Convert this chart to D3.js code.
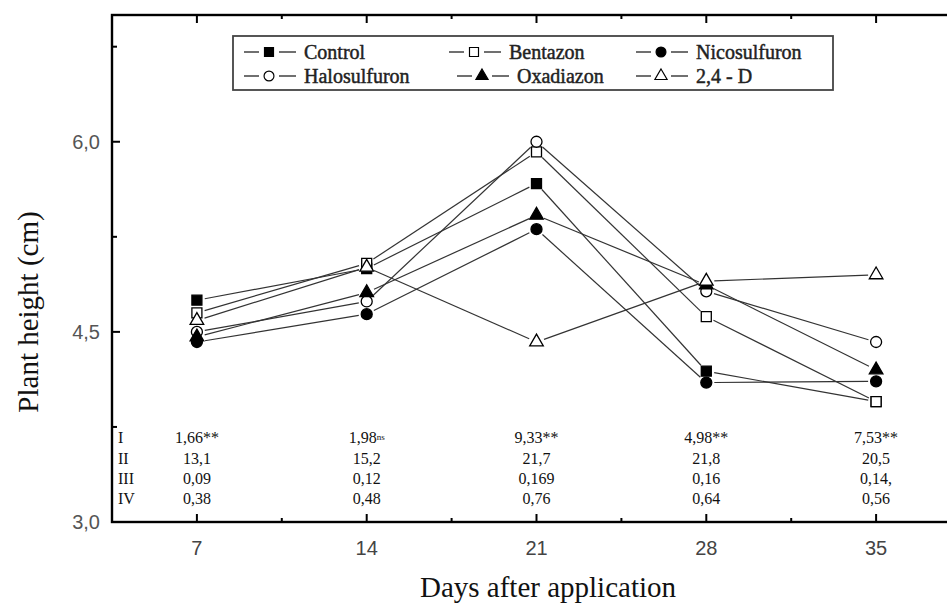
<!DOCTYPE html>
<html>
<head>
<meta charset="utf-8">
<script src="https://cdn.jsdelivr.net/npm/d3@7"></script>
<style>
  body { margin: 0; background: #fff; }
  svg { display: block; }
</style>
</head>
<body>
<div id="chart"></div>
<script>
// data
var days = [7, 14, 21, 28, 35];
var control = [4.75, 5.00, 5.67, 4.19, 3.95];
var bentazon = [4.65, 5.04, 5.92, 4.62, 3.95];
var nicosulfuron = [4.42, 4.64, 5.31, 4.10, 4.11];
var halosulfuron = [4.50, 4.74, 6.00, 4.82, 4.42];
var oxadiazon = [4.46, 4.81, 5.42, 4.87, 4.20];
var d24 = [4.59, 5.01, 4.42, 4.90, 4.95];

var seriesNames = ["Control", "Bentazon", "Nicosulfuron", "Halosulfuron", "Oxadiazon", "2,4 - D"];
var yTicks = [3.0, 4.5, 6.0];
var yMinor = [3.75, 5.25, 6.75];
var xMinor = [10.5, 17.5, 24.5, 31.5];

// statistics rows under the curves
var rowLabels = ["I", "II", "III", "IV"];
var rowI = ["1,66**", "1,98", "9,33**", "4,98**", "7,53**"];
var rowII = ["13,1", "15,2", "21,7", "21,8", "20,5"];
var rowIII = ["0,09", "0,12", "0,169", "0,16", "0,14,"];
var rowIV = ["0,38", "0,48", "0,76", "0,64", "0,56"];

var W = 947, H = 603;
var margin = { left: 112, top: 15, bottom: 81 };
var serif = "'Liberation Serif', 'Times New Roman', serif";
var sans = "'Liberation Sans', Arial, sans-serif";

var svg = d3.select("#chart").append("svg")
  .attr("width", W)
  .attr("height", H);

var x = d3.scaleLinear().domain([3.5, 38.5]).range([margin.left, 961]);
var y = d3.scaleLinear().domain([3, 7]).range([H - margin.bottom, margin.top]);

var series = [
  { name: seriesNames[0], values: control, shape: "square", fill: "#000" },
  { name: seriesNames[1], values: bentazon, shape: "square", fill: "#fff" },
  { name: seriesNames[2], values: nicosulfuron, shape: "circle", fill: "#000" },
  { name: seriesNames[3], values: halosulfuron, shape: "circle", fill: "#fff" },
  { name: seriesNames[4], values: oxadiazon, shape: "triangle", fill: "#000" },
  { name: seriesNames[5], values: d24, shape: "triangle", fill: "#fff" }
];

function symbolFor(shape) {
  if (shape == "square") return d3.symbol().type(d3.symbolSquare).size(100)();
  if (shape == "circle") return d3.symbol().type(d3.symbolCircle).size(95)();
  return d3.symbol().type(d3.symbolTriangle).size(80)();
}

// frame
svg.append("rect")
  .attr("x", x(3.5)).attr("y", y(7))
  .attr("width", x(38.5) - x(3.5)).attr("height", y(3) - y(7))
  .attr("fill", "none").attr("stroke", "#000").attr("stroke-width", 2.4);

// ticks (inward)
var tk = svg.append("g").attr("stroke", "#000").attr("stroke-width", 2);
days.forEach(function (d) {
  tk.append("line").attr("x1", x(d)).attr("x2", x(d)).attr("y1", y(3)).attr("y2", y(3) - 8);
  tk.append("line").attr("x1", x(d)).attr("x2", x(d)).attr("y1", y(7)).attr("y2", y(7) + 8);
});
xMinor.forEach(function (d) {
  tk.append("line").attr("x1", x(d)).attr("x2", x(d)).attr("y1", y(3)).attr("y2", y(3) - 4);
  tk.append("line").attr("x1", x(d)).attr("x2", x(d)).attr("y1", y(7)).attr("y2", y(7) + 4);
});
yTicks.forEach(function (v) {
  tk.append("line").attr("x1", x(3.5)).attr("x2", x(3.5) + 8).attr("y1", y(v)).attr("y2", y(v));
});
yMinor.forEach(function (v) {
  tk.append("line").attr("x1", x(3.5)).attr("x2", x(3.5) + 5).attr("y1", y(v)).attr("y2", y(v));
});

// tick labels
svg.append("g").selectAll("text")
  .data(yTicks).enter().append("text")
  .attr("x", x(3.5) - 12).attr("y", function (d) { return y(d); })
  .attr("dy", "0.35em")
  .attr("text-anchor", "end")
  .attr("font-family", sans)
  .attr("font-size", 20).attr("fill", "#555")
  .text(function (d) { return d3.format(".1f")(d).replace(".", ","); });

svg.append("g").selectAll("text")
  .data(days).enter().append("text")
  .attr("x", function (d) { return x(d); }).attr("y", y(3) + 33)
  .attr("text-anchor", "middle")
  .attr("font-family", sans)
  .attr("font-size", 20).attr("fill", "#444")
  .text(function (d) { return d; });

// axis titles
svg.append("text")
  .attr("transform", "translate(38,312) rotate(-90)")
  .attr("text-anchor", "middle")
  .attr("font-family", serif)
  .attr("font-size", 29).attr("fill", "#111")
  .text("Plant height (cm)");

svg.append("text")
  .attr("x", 548).attr("y", 597)
  .attr("text-anchor", "middle")
  .attr("font-family", serif)
  .attr("font-size", 29).attr("fill", "#111")
  .text("Days after application");

// lines with small gaps at the markers
var gap = 8;
var lines = svg.append("g").attr("stroke", "#333").attr("stroke-width", 1.2);
series.forEach(function (s) {
  for (var i = 0; i < days.length - 1; i++) {
    var x1 = x(days[i]), y1 = y(s.values[i]);
    var x2 = x(days[i + 1]), y2 = y(s.values[i + 1]);
    var len = Math.sqrt((x2 - x1) * (x2 - x1) + (y2 - y1) * (y2 - y1));
    var ux = (x2 - x1) / len, uy = (y2 - y1) / len;
    lines.append("line")
      .attr("x1", x1 + ux * gap).attr("y1", y1 + uy * gap)
      .attr("x2", x2 - ux * gap).attr("y2", y2 - uy * gap);
  }
});

// markers
series.forEach(function (s) {
  svg.append("g").selectAll("path")
    .data(s.values).enter().append("path")
    .attr("d", symbolFor(s.shape))
    .attr("transform", function (d, i) { return "translate(" + x(days[i]) + "," + y(d) + ")"; })
    .attr("fill", s.fill)
    .attr("stroke", "#000")
    .attr("stroke-width", 1.3);
});

// legend
var lg = svg.append("g");
lg.append("rect")
  .attr("x", 233).attr("y", 36).attr("width", 600).attr("height", 54)
  .attr("fill", "#fff").attr("stroke", "#444").attr("stroke-width", 1.8);

var legX = [244, 449, 636];
var legY = [52, 76];
series.forEach(function (s, i) {
  var lx = legX[i % 3] + (i == 4 ? 8 : 0), ly = legY[Math.floor(i / 3)];
  var it = lg.append("g").attr("transform", "translate(" + lx + "," + ly + ")");
  it.append("line").attr("x1", 0).attr("x2", 15).attr("y1", 0).attr("y2", 0)
    .attr("stroke", "#222").attr("stroke-width", 1.3);
  it.append("path").attr("d", symbolFor(s.shape))
    .attr("transform", "translate(25,0) scale(0.9)")
    .attr("fill", s.fill).attr("stroke", "#000").attr("stroke-width", 1.3);
  it.append("line").attr("x1", 35).attr("x2", 52).attr("y1", 0).attr("y2", 0)
    .attr("stroke", "#222").attr("stroke-width", 1.3);
  it.append("text")
    .attr("x", 60).attr("y", 0).attr("dy", "0.35em")
    .attr("font-family", serif)
    .attr("font-size", 20).attr("fill", "#222")
    .attr("stroke", "#222").attr("stroke-width", 0.45)
    .text(s.name);
});

// statistics table
var rows = [rowI, rowII, rowIII, rowIV];
var rowY = [437, 458, 478, 498];
var st = svg.append("g")
  .attr("font-family", serif)
  .attr("font-size", 16).attr("fill", "#111");
rows.forEach(function (r, j) {
  st.append("text").attr("x", 118).attr("y", rowY[j]).attr("dy", "0.35em").text(rowLabels[j]);
  r.forEach(function (v, i) {
    var t = st.append("text")
      .attr("x", x(days[i])).attr("y", rowY[j]).attr("dy", "0.35em")
      .attr("text-anchor", "middle")
      .text(v);
    if (j == 0 && v == "1,98") {
      t.append("tspan").attr("font-size", 9).attr("dy", "-0.3em").text("ns");
    }
  });
});
</script>
</body>
</html>
